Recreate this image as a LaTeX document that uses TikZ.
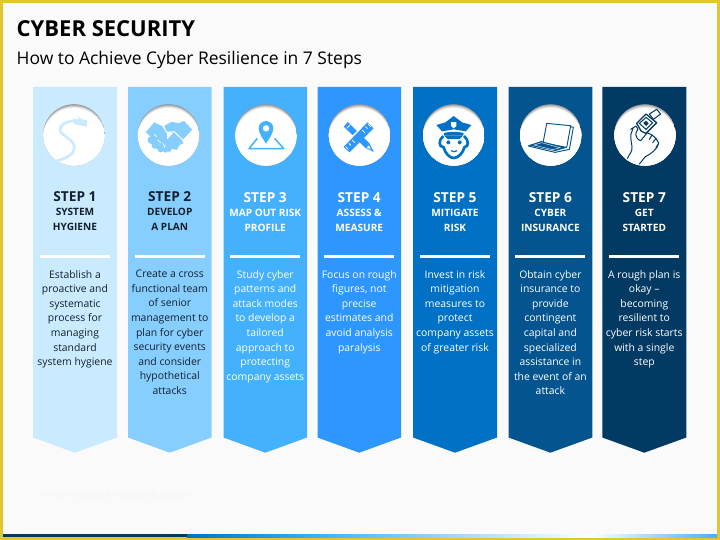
\documentclass[tikz,border=0pt]{standalone}
\usepackage{fontspec}
\setmainfont{Open Sans}
\usetikzlibrary{calc}
\definecolor{bgc}{HTML}{FAFAFA}
\definecolor{frame}{HTML}{E0C632}
\definecolor{inkc}{HTML}{14202C}
\definecolor{colA}{HTML}{C9EAFF}
\definecolor{colB}{HTML}{86CEFF}
\definecolor{colC}{HTML}{44B1FF}
\definecolor{colD}{HTML}{2E96FF}
\definecolor{colE}{HTML}{0071C5}
\definecolor{colF}{HTML}{04548F}
\definecolor{colG}{HTML}{033A63}
\tikzset{
  x=1pt,y=-1pt,
  headline/.style={font=\fontsize{13.7}{13.7}\selectfont\bfseries,anchor=center,inner sep=0pt},
  subline/.style={font=\fontsize{10.1}{14.9}\selectfont\bfseries,align=center,anchor=north,inner sep=0pt},
  bodytext/.style={font=\fontsize{10.4}{14.58}\selectfont,align=center,anchor=north,inner sep=0pt},
  rulebar/.style={fill=white,draw=none},
}
% arguments: id, left, right, circle centre x, colour, text colour, head y, sub, body
\newcommand{\stepcol}[9]{%
  \fill[#5] (#2,87) -- (#3,87) -- (#3,437.5) -- ({(#2+#3)/2},452.7) -- (#2,437.5) -- cycle;
  \begin{scope}
    \clip (#4,135) circle[radius=30.6];
    \fill[black!45] (#4,135) circle[radius=31];
    \foreach \k/\g in {1/60,2/68,3/76,4/84,5/91,6/96}{
      \fill[white!\g!black] (#4,135+\k*0.65) circle[radius=31.2];
    }
    \fill[white] (#4,135+4.6) circle[radius=31.4];
  \end{scope}
  \node[headline,text=#6] (head#1) at ({(#2+#3)/2},#7+.5) {STEP #1};
  \node[subline,text=#6] (sub#1) at ({(#2+#3)/2},#7+12.2) {#8};
  \fill[rulebar] ({(#2+#3)/2-35},254.7) rectangle ({(#2+#3)/2+35},258.2);
  \node[bodytext,text=#6] (body#1) at ({(#2+#3)/2},270) {#9};
}
\newenvironment{iconat}[4]{\begin{scope}[xshift=#1pt,yshift=-#2pt,x=.3333pt,y=-.3333pt,shift={(-#3,-#4)}]}{\end{scope}}
\begin{document}
\begin{tikzpicture}
\useasboundingbox (0,0) rectangle (720,540);
\fill[frame] (0,0) rectangle (720,540);
\fill[bgc] (3,3) rectangle (717,537);
% bottom strip
\fill[colG] (3,534) rectangle (187,537);
\fill[left color=colE,right color=cyan!60!blue!70!white] (187,534) rectangle (340,537);
\fill[left color=cyan!60!blue!70!white,right color=white] (340,534) rectangle (590,537);
\fill[left color=white,right color=colC] (590,534) rectangle (717,537);
% titles
\node[anchor=west,inner sep=0pt,font=\fontsize{22}{22}\selectfont\bfseries,text=black] (title) at (16.5,28.5) {CYBER SECURITY};
\node[anchor=west,inner sep=0pt,font=\fontsize{17.45}{17.45}\selectfont,text=black] (subtitle) at (16.5,60) {How to Achieve Cyber Resilience in 7 Steps};
\node[anchor=west,inner sep=0pt,font=\fontsize{9.5}{9.5}\selectfont,text=black!4] (mark) at (40,495) {www.heritagechristiancollege.com};
% columns
\stepcol{1}{33}{117}{74}{colA}{inkc}{196}{SYSTEM\\HYGIENE}{Establish a\\proactive and\\systematic\\process for\\managing\\standard\\system hygiene}
\stepcol{2}{128}{211.5}{168.5}{colB}{inkc}{196}{DEVELOP\\A PLAN}{Create a cross\\functional team\\of senior\\management to\\plan for cyber\\security events\\and consider\\hypothetical\\attacks}
\stepcol{3}{223.5}{307}{266}{colC}{white}{197}{MAP OUT RISK\\PROFILE}{Study cyber\\patterns and\\attack modes\\to develop a\\tailored\\approach to\\protecting\\company assets}
\stepcol{4}{317.5}{401}{359.5}{colD}{white}{197}{ASSESS \&\\MEASURE}{Focus on rough\\figures, not\\precise\\estimates and\\avoid analysis\\paralysis}
\stepcol{5}{413}{497}{453.7}{colE}{white}{197}{MITIGATE\\RISK}{Invest in risk\\mitigation\\measures to\\protect\\company assets\\of greater risk}
\stepcol{6}{508.5}{592.3}{550.7}{colF}{white}{197}{CYBER\\INSURANCE}{Obtain cyber\\insurance to\\provide\\contingent\\capital and\\specialized\\assistance in\\the event of an\\attack}
\stepcol{7}{602.3}{686.3}{645}{colG}{white}{197}{GET\\STARTED}{A rough plan is\\okay --\\becoming\\resilient to\\cyber risk starts\\with a single\\step}
% icon 1: cable
\begin{iconat}{74}{135}{132}{137}
  \draw[colA,line width=2.6pt,line cap=round] (136,94) .. controls (108,95) and (88,108) .. (90,122) .. controls (93,140) and (132,148) .. (133,175) .. controls (134,192) and (110,208) .. (78,215);
  \fill[colA] (128,88) -- (170,92) -- (171,112) -- (132,104) -- cycle;
  \fill[colA] (140,80) -- (158,90) -- (150,92) -- cycle;
\end{iconat}
% icon 2: handshake
\begin{iconat}{168.5}{135}{415}{135}
  \fill[colB] (347,127) -- (372,97) -- (400,110) -- (410,130) -- (412,160) -- (395,172) -- (372,150) -- cycle;
  \fill[colB] (402,108) -- (425,95) -- (444,100) -- (462,93) -- (486,119) -- (462,145) -- (455,150) -- (460,160) -- (448,165) -- (440,180) -- (425,176) -- (418,188) -- (404,172) -- (410,150) -- (430,128) -- (408,126) -- cycle;
  \fill[colB] (364,150) circle[radius=12];
  \fill[colB] (376,165) circle[radius=12];
  \fill[colB] (392,176) circle[radius=11];
  \fill[colB] (406,180) circle[radius=8];
  \draw[white,line width=1pt] (398,108) -- (410,127) -- (432,125) -- (458,150);
  \draw[white,line width=.6pt] (372,133) -- (380,140) (382,150) -- (392,158) (398,160) -- (404,170);
\end{iconat}
% icon 3: map pin
\begin{iconat}{266}{135}{798}{406}
  \fill[colC,even odd rule] (798,432) .. controls (790,418) and (776,402) .. (776,386) arc[start angle=180,end angle=360,radius=22] .. controls (820,402) and (806,418) .. (798,432) -- cycle (798,386) circle[radius=10];
  \draw[colC,line width=1.5pt,line join=round] (772,416) -- (747,447) -- (851,447) -- (824,416);
\end{iconat}
% icon 4: pencil and ruler
\begin{iconat}{359.5}{135}{1078}{406}
  \fill[colD] (1031,381) -- (1043,367) -- (1108,431) -- (1120,456) -- (1095,444) -- cycle;
  \draw[white,line width=.8pt] (1040,386) -- (1050,375);
  \fill[white] (1112,449) -- (1106,437) -- (1100,443) -- cycle;
  \fill[colD] (1120,456) -- (1113,453) -- (1117,449) -- cycle;
  \draw[white,line width=3pt] (1024,444) -- (1112,362);
  \fill[colD] (1030,442) -- (1102,368) -- (1120,386) -- (1048,458) -- cycle;
  \draw[white,line width=.75pt] (1036,441) -- (1044,449) (1046,431) -- (1052,437) (1056,421) -- (1064,429) (1086,391) -- (1094,399) (1096,381) -- (1102,387) (1104,373) -- (1112,381);
\end{iconat}
% icon 5: officer
\begin{iconat}{453.7}{135.7}{130}{137}
  \fill[colE] (78,105) -- (105,97) -- (130,78) -- (155,97) -- (183,105) -- (166,124) -- (130,118) -- (95,124) -- cycle;
  \fill[white] (122,96) -- (138,96) -- (138,108) -- (130,115) -- (122,108) -- cycle;
  \fill[colE] (100,129) .. controls (120,124) and (140,124) .. (160,129) -- (158,137) -- (102,137) -- cycle;
  \draw[colE,line width=2.7pt] (99,138) .. controls (84,150) and (84,170) .. (100,172) .. controls (104,190) and (118,204) .. (130,204) .. controls (142,204) and (158,190) .. (162,172) .. controls (176,170) and (176,150) .. (161,138);
  \fill[colE] (102,137) -- (158,137) -- (148,147) -- (112,147) -- cycle;
  \fill[colE] (114,157) circle[radius=6];
  \fill[colE] (148,157) circle[radius=6];
  \draw[colE,line width=1.2pt] (122,182) .. controls (128,186) and (134,186) .. (140,182);
\end{iconat}
% icon 6: laptop
\begin{iconat}{550.7}{135.7}{572}{197}
  \draw[colF,line width=.95pt,line join=round] (560,160) -- (632,167) -- (620,232) -- (549,219) -- cycle;
  \draw[colF,line width=.95pt,line join=round] (632,170) -- (640,172) -- (628,238) -- (585,247) -- (505,228) -- (546,214);
  \fill[colF] (505,226) -- (546,214) -- (620,233) -- (585,243) -- cycle;
  \draw[white,line width=.4pt] (522,225) -- (545,218) -- (600,233) -- (578,239) -- cycle;
\end{iconat}
% icon 7: hand with device
\begin{iconat}{645}{135.7}{135}{137}
  \draw[colG,line width=1pt,line join=round,fill=white] (148,72) -- (170,58) -- (182,72) -- (160,88) -- cycle;
  \draw[colG,line width=1.3pt,line join=round,fill=white] (110,100) -- (138,72) -- (170,98) -- (138,130) -- (124,124) -- cycle;
  \draw[colG,line width=1pt] (118,100) -- (138,82) -- (158,98) -- (138,118) -- cycle;
  \fill[colG] (130,99) -- (138,92) -- (146,100) -- (138,108) -- cycle;
  \draw[colG,line width=1pt,line join=round,line cap=round] (82,205) .. controls (90,190) and (98,182) .. (96,170) .. controls (94,152) and (88,135) .. (96,124) -- (100,112) (92,118) -- (108,108) -- (114,118) -- (108,128) .. controls (106,138) and (112,150) .. (122,152) -- (142,128) -- (156,135) -- (148,148) (156,135) -- (168,145) -- (158,158) (168,145) -- (176,160) -- (168,172) (176,160) .. controls (172,178) and (152,192) .. (136,200) -- (118,222);
\end{iconat}
\end{tikzpicture}
\end{document}
